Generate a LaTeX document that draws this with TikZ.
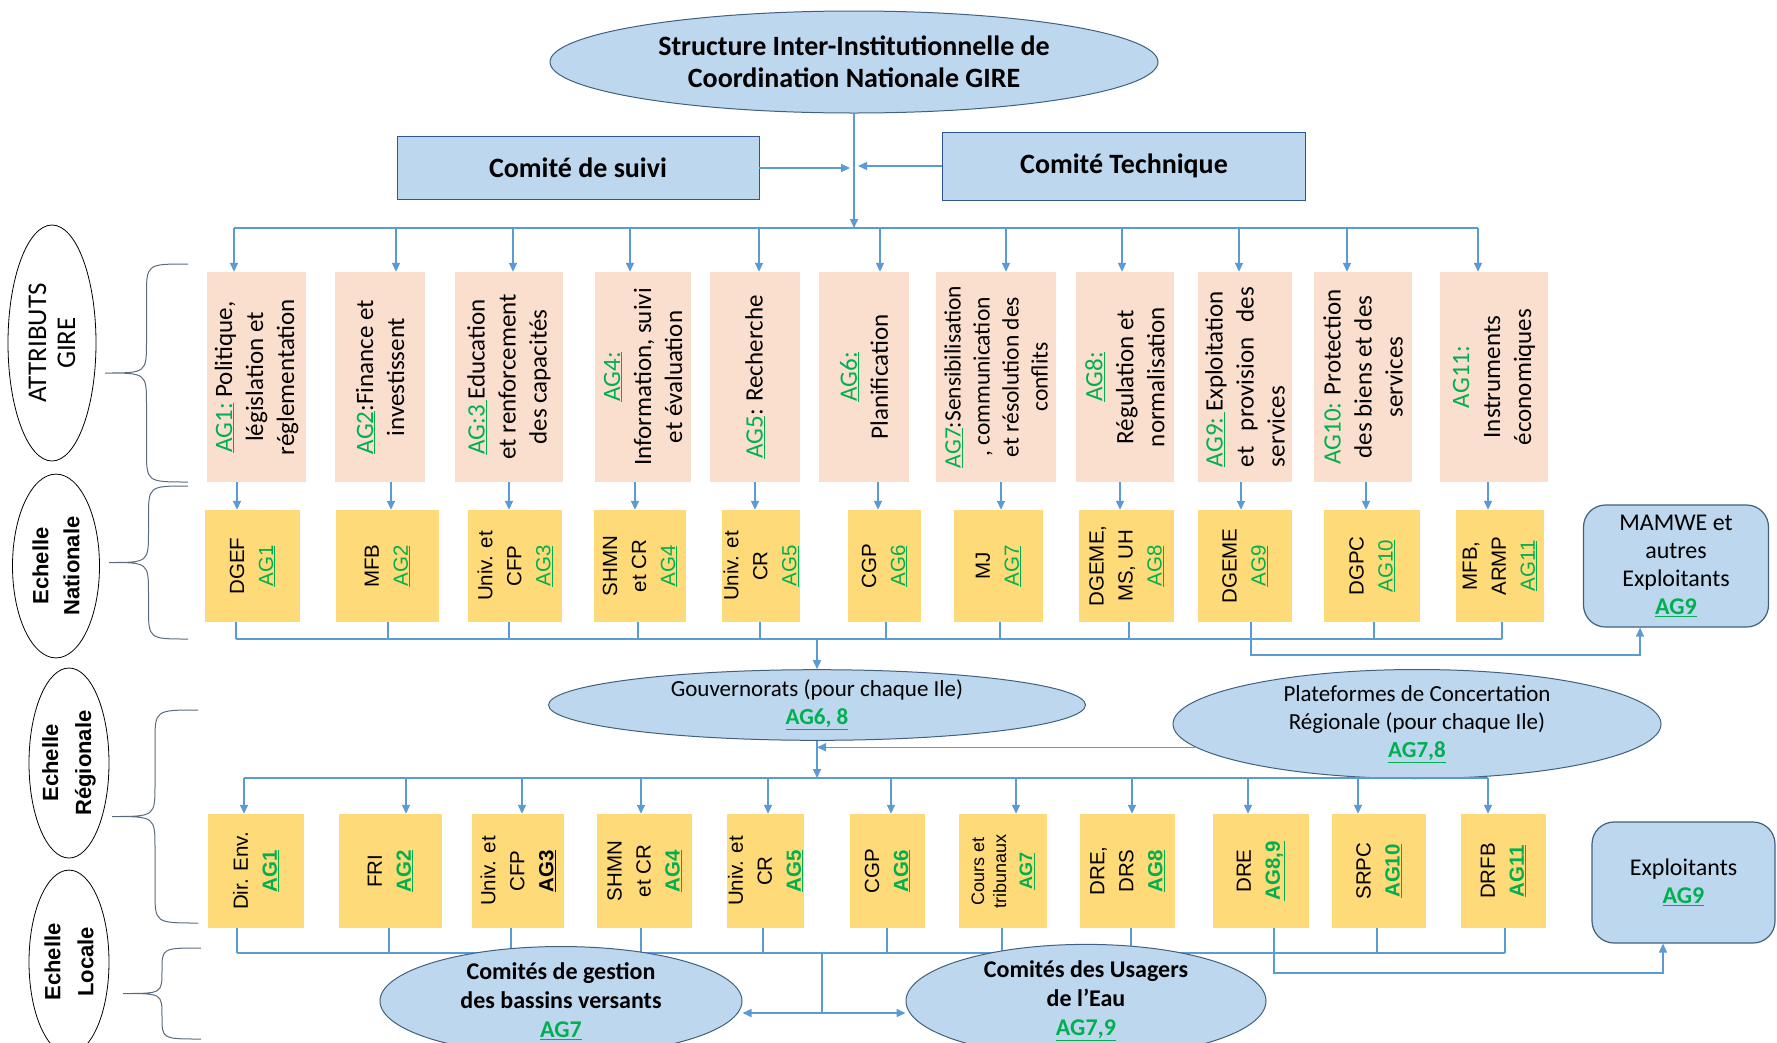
\documentclass[tikz,border=0pt]{standalone}
\usepackage{fontspec}
\setmainfont{Carlito}
\newfontfamily\arialf{Liberation Sans}
\usepackage{graphicx}
\usetikzlibrary{arrows.meta,shapes.geometric}

\definecolor{girelink}{HTML}{5B9BD5}
\definecolor{giregreen}{HTML}{00B050}
\definecolor{girepeach}{HTML}{FADFCF}
\definecolor{gireyellow}{HTML}{FFDA78}
\definecolor{gireblue}{HTML}{BDD7EE}
\definecolor{gireedge}{HTML}{2F5597}
\definecolor{gireoval}{HTML}{41607F}
\definecolor{girebrace}{HTML}{5A6B7D}

\newcommand{\ag}[1]{\textcolor{giregreen}{\underline{#1}}}
\newcommand{\agb}[1]{\textcolor{giregreen}{\underline{\textbf{#1}}}}
\newcommand{\vtxt}[2]{\rotatebox{90}{\parbox{#1}{\centering #2}}}
% brace: x of ends, top y, bottom y, x of tip
\newcommand{\girebrace}[4]{%
  \pgfmathsetmacro{\bxm}{(#1+#4)/2}%
  \pgfmathsetmacro{\bym}{(#2+#3)/2}%
  \pgfmathsetmacro{\brr}{min(32,(#3-#2)/4)}%
  \draw[bracel] (#1,#2) .. controls (\bxm,#2) .. (\bxm,#2+\brr) -- (\bxm,\bym-\brr)
    .. controls (\bxm,\bym) .. (#4,\bym) .. controls (\bxm,\bym) .. (\bxm,\bym+\brr)
    -- (\bxm,#3-\brr) .. controls (\bxm,#3) .. (#1,#3);
}

\tikzset{
  arr/.style={draw=girelink, line width=1.5pt, -{Triangle[length=9pt,width=8pt]}},
  link/.style={draw=girelink, line width=1.5pt},
  comite/.style={draw=gireedge, line width=0.9pt, fill=gireblue, inner sep=0pt, font=\bfseries\fontsize{28}{32}\selectfont},
  blueell/.style={ellipse, draw=gireoval, line width=1pt, fill=gireblue, inner sep=0pt, align=center},
  opbox/.style={draw=gireoval, line width=1.2pt, fill=gireblue, rounded corners=22pt, inner sep=0pt, align=center, font=\fontsize{24}{28}\selectfont},
  agbox/.style={fill=girepeach, inner sep=0pt, minimum height=210pt, font=\fontsize{25}{31}\selectfont},
  natbox/.style={fill=gireyellow, inner sep=0pt, minimum height=112pt, font=\arialf\fontsize{20.5}{29}\selectfont},
  regbox/.style={natbox, minimum height=114pt},
  echelle/.style={ellipse, draw=black, line width=0.8pt, fill=white, inner sep=0pt},
  bracel/.style={draw=girebrace, line width=1pt},
}

\begin{document}
\begin{tikzpicture}[x=1pt, y=-1pt]
\useasboundingbox (0,0) rectangle (1777,1042);

% coordination
\node[blueell, minimum width=608pt, minimum height=102pt, font=\bfseries\fontsize{28}{32}\selectfont] (sigcn) at (854,62) {Structure Inter-Institutionnelle de\\Coordination Nationale GIRE};
\node[comite, minimum width=362pt, minimum height=63pt] (suivi) at (578,168) {Comité de suivi};
\node[comite, minimum width=363pt, minimum height=68pt] (tech) at (1124,166) {Comité Technique};
\coordinate (hub) at (854,167);
\coordinate (bus1w) at (234,228);
\coordinate (bus1e) at (1478,228);
\draw[arr] (sigcn.south) -- (sigcn.south |- bus1w);
\draw[arr, shorten >=4pt] (suivi.east) -- (suivi.east -| hub);
\draw[arr, shorten >=4pt] (tech.west) -- (tech.west -| hub);
\draw[link] (bus1w) -- (bus1e);

% attributs GIRE
\node[agbox, minimum width=99pt] (ag1) at (256.5,377) {\vtxt{200pt}{\ag{AG1:} Politique,\\législation et\\réglementation}};
\node[agbox, minimum width=90pt] (ag2) at (380,377) {\vtxt{200pt}{\ag{AG2}:Finance et\\investissent}};
\node[agbox, minimum width=108pt] (ag3) at (509,377) {\vtxt{200pt}{\ag{AG:3\ }Education\\et renforcement\\des capacités}};
\node[agbox, minimum width=96pt] (ag4) at (643,377) {\vtxt{200pt}{\ag{AG4:}\\Information, suivi\\et évaluation}};
\node[agbox, minimum width=90pt] (ag5) at (755,377) {\vtxt{200pt}{\ag{AG5}: Recherche}};
\node[agbox, minimum width=90pt] (ag6) at (864,377) {\vtxt{200pt}{\ag{AG6:}\\Planification}};
\node[agbox, minimum width=120pt, font=\fontsize{23.5}{29}\selectfont] (ag7) at (996,377) {\vtxt{200pt}{\ag{AG7}:Sensibilisation\\, communication\\et résolution des\\conflits}};
\node[agbox, minimum width=98pt] (ag8) at (1125,377) {\vtxt{200pt}{\ag{AG8:}\\Régulation et\\normalisation}};
\node[agbox, minimum width=94pt] (ag9) at (1245,377) {\vtxt{180pt}{\raggedright\ag{AG9:\ }Exploitation\\et\hfill provision\hfill des\\services}};
\node[agbox, minimum width=98pt] (ag10) at (1363,377) {\vtxt{200pt}{\textcolor{giregreen}{AG10:} Protection\\des biens et des\\services}};
\node[agbox, minimum width=108pt] (ag11) at (1494,377) {\vtxt{200pt}{\textcolor{giregreen}{AG11:}\\Instruments\\économiques}};
\foreach \i/\x in {1/234,2/396,3/513,4/630,5/759,6/880,7/1006,8/1122,9/1239,10/1347,11/1478}
  \draw[arr] (\x,0 |- bus1w) -- (\x,0 |- ag\i.north);

% echelle nationale
\node[natbox, minimum width=95pt] (nat1) at (252.5,566) {\vtxt{108pt}{DGEF\\\ag{AG1}}};
\node[natbox, minimum width=103pt] (nat2) at (387.5,566) {\vtxt{108pt}{MFB\\\ag{AG2}}};
\node[natbox, minimum width=94pt] (nat3) at (515,566) {\vtxt{108pt}{Univ. et\\CFP\\\ag{AG3}}};
\node[natbox, minimum width=92pt] (nat4) at (640,566) {\vtxt{108pt}{SHMN\\et CR\\\ag{AG4}}};
\node[natbox, minimum width=78pt] (nat5) at (761,566) {\vtxt{108pt}{Univ. et\\CR\\\ag{AG5}}};
\node[natbox, minimum width=73pt] (nat6) at (884.5,566) {\vtxt{108pt}{CGP\\\ag{AG6}}};
\node[natbox, minimum width=89pt] (nat7) at (998.5,566) {\vtxt{108pt}{MJ\\\ag{AG7}}};
\node[natbox, minimum width=95pt] (nat8) at (1126.5,566) {\vtxt{108pt}{DGEME,\\MS, UH\\\ag{AG8}}};
\node[natbox, minimum width=94pt] (nat9) at (1245,566) {\vtxt{108pt}{DGEME\\\ag{AG9}}};
\node[natbox, minimum width=96pt] (nat10) at (1372,566) {\vtxt{108pt}{DGPC\\\ag{AG10}}};
\node[natbox, minimum width=88pt] (nat11) at (1500,566) {\vtxt{108pt}{MFB,\\ARMP\\\ag{AG11}}};
\node[opbox, minimum width=185pt, minimum height=122pt] (mamwe) at (1676,566) {MAMWE et\\autres\\Exploitants\\\agb{AG9}};
\foreach \i/\x in {1/237,2/391,3/509,4/635,5/755,6/878,7/1001,8/1120,9/1241,10/1366,11/1488}
  \draw[arr] (\x,0 |- ag\i.south) -- (\x,0 |- nat\i.north);
\coordinate (bus2w) at (236,639);
\coordinate (bus2e) at (1502,639);
\foreach \i/\x in {1/236,2/388,3/509,4/638,5/760,6/886,7/1000,8/1129,10/1374,11/1502}
  \draw[link] (\x,0 |- nat\i.south) -- (\x,0 |- bus2w);
\draw[link] (bus2w) -- (bus2e);
\coordinate (natlink) at (1640,655);
\draw[arr] (1251,0 |- nat9.south) |- (natlink) -- (natlink |- mamwe.south);

% echelle regionale
\node[blueell, minimum width=537pt, minimum height=64pt, font=\fontsize{23}{28}\selectfont] (gouv) at (817,705) {Gouvernorats (pour chaque Ile)\\\agb{AG6, 8}};
\node[blueell, minimum width=488pt, minimum height=87pt, font=\fontsize{23}{28}\selectfont] (plat) at (1417,724) {Plateformes de Concertation\\Régionale (pour chaque Ile)\\\agb{AG7,8}};
\coordinate (bus3w) at (244,778);
\coordinate (bus3e) at (1488,778);
\draw[arr] (gouv.north |- bus2w) -- (gouv.north);
\draw[arr] (plat.186) -- (gouv.south |- plat.186);
\draw[arr] (gouv.south) -- (gouv.south |- bus3w);
\draw[link] (bus3w) -- (bus3e);

\node[regbox, minimum width=96pt] (reg1) at (256,871) {\vtxt{108pt}{Dir. Env.\\\agb{AG1}}};
\node[regbox, minimum width=103pt] (reg2) at (390.5,871) {\vtxt{108pt}{FRI\\\agb{AG2}}};
\node[regbox, minimum width=92pt] (reg3) at (518,871) {\vtxt{108pt}{Univ. et\\CFP\\\underline{\textbf{AG3}}}};
\node[regbox, minimum width=95pt] (reg4) at (644.5,871) {\vtxt{108pt}{SHMN\\et CR\\\agb{AG4}}};
\node[regbox, minimum width=77pt] (reg5) at (765.5,871) {\vtxt{108pt}{Univ. et\\CR\\\agb{AG5}}};
\node[regbox, minimum width=75pt] (reg6) at (887.5,871) {\vtxt{108pt}{CGP\\\agb{AG6}}};
\node[regbox, minimum width=88pt, font=\arialf\fontsize{18}{22}\selectfont] (reg7) at (1003,871) {\vtxt{108pt}{Cours et\\tribunaux\\[4pt]\agb{AG7}}};
\node[regbox, minimum width=95pt] (reg8) at (1127.5,871) {\vtxt{108pt}{DRE,\\DRS\\\agb{AG8}}};
\node[regbox, minimum width=96pt] (reg9) at (1261,871) {\vtxt{108pt}{DRE\\\agb{AG8,9}}};
\node[regbox, minimum width=94pt] (reg10) at (1379,871) {\vtxt{108pt}{SRPC\\\agb{AG10}}};
\node[regbox, minimum width=85pt] (reg11) at (1503.5,871) {\vtxt{108pt}{DRFB\\\agb{AG11}}};
\node[opbox, minimum width=183pt, minimum height=121pt] (explo) at (1683.5,882.5) {Exploitants\\\agb{AG9}};
\foreach \i/\x in {1/244,2/406,3/522,4/641,5/768,6/891,7/1016,8/1132,9/1248,10/1358,11/1488}
  \draw[arr] (\x,0 |- bus3w) -- (\x,0 |- reg\i.north);
\coordinate (bus4w) at (237,953);
\coordinate (bus4e) at (1505,953);
\foreach \i/\x in {1/237,2/389,3/511,4/641,5/763,6/887,7/1002,8/1131,10/1377,11/1505}
  \draw[link] (\x,0 |- reg\i.south) -- (\x,0 |- bus4w);
\draw[link] (bus4w) -- (bus4e);
\coordinate (reglink) at (1663,973);
\draw[arr] (1274,0 |- reg9.south) |- (reglink) -- (reglink |- explo.south);

% echelle locale
\node[blueell, minimum width=362pt, minimum height=86pt, font=\bfseries\fontsize{24}{29}\selectfont] (gest) at (561,1001) {Comités de gestion\\des bassins versants\\\agb{AG7}};
\node[blueell, minimum width=360pt, minimum height=84pt, font=\bfseries\fontsize{24}{29}\selectfont] (usag) at (1086,1001) {Comités des Usagers\\de l’Eau\\\agb{AG7,9}};
\coordinate (loc) at (822,1013);
\draw[link] (822,0 |- bus4w) -- (loc);
\draw[arr] (loc) -- (loc -| gest.east);
\draw[arr] (loc) -- (loc -| usag.west);

% echelles
\node[echelle, minimum width=88pt, minimum height=236pt, font=\fontsize{27}{29}\selectfont] (lattr) at (52,343) {\vtxt{150pt}{ATTRIBUTS\\GIRE}};
\node[echelle, minimum width=87pt, minimum height=180pt, font=\arialf\bfseries\fontsize{22}{31}\selectfont] (lnat) at (56,566) {\vtxt{130pt}{Echelle\\Nationale}};
\node[echelle, minimum width=80pt, minimum height=190pt, font=\arialf\bfseries\fontsize{22}{33}\selectfont] (lreg) at (69,763) {\vtxt{130pt}{Echelle\\Régionale}};
\node[echelle, minimum width=80pt, minimum height=155pt, font=\arialf\bfseries\fontsize{22}{33}\selectfont] (lloc) at (69,962) {\vtxt{130pt}{Echelle\\Locale}};
\girebrace{188}{264}{482}{105}
\girebrace{188}{486}{639}{109}
\girebrace{198}{710}{923}{112}
\girebrace{201}{948}{1039}{123}
\end{tikzpicture}
\end{document}
